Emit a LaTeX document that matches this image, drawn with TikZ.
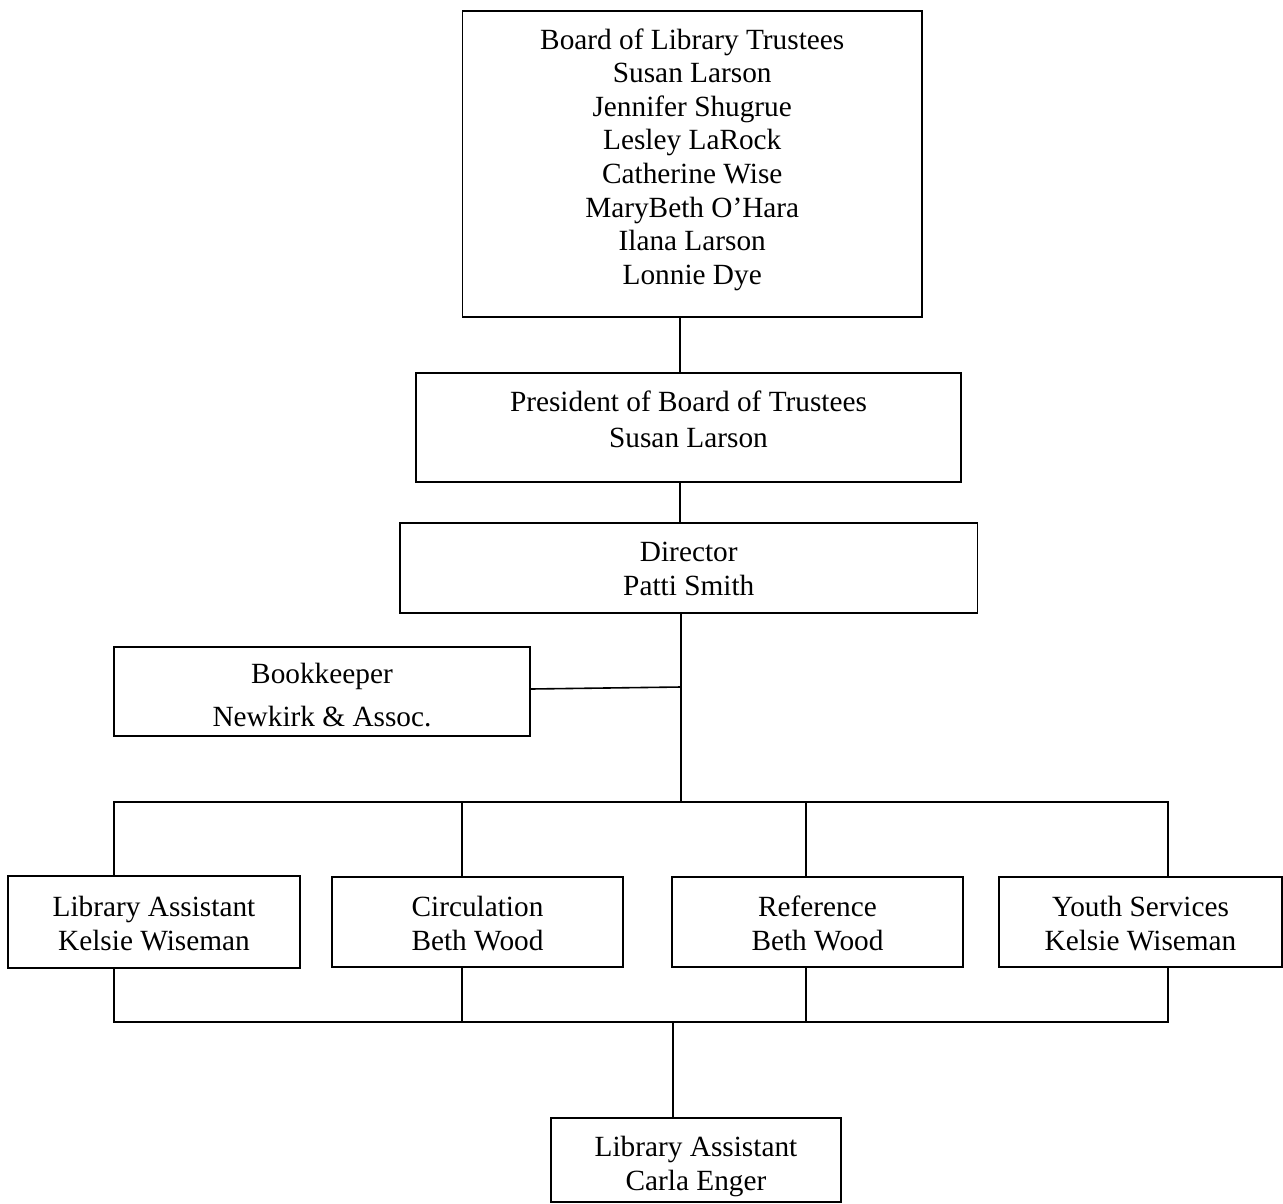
\documentclass[tikz,border=0pt]{standalone}
\usepackage{fontspec}
\setmainfont{Liberation Serif}
\begin{document}
\begin{tikzpicture}[x=1pt,y=-1pt,
  box/.style={draw, line width=1.8pt, inner sep=0pt, rectangle},
  txt/.style={align=center, inner sep=0pt, font=\fontsize{29.3}{34}\selectfont,
    execute at begin node=\strut, execute at end node=\strut},
  link/.style={line width=1.6pt, line join=miter}]
\useasboundingbox (0,0) rectangle (1283,1203);

% boxes
\node[box, minimum width=459.5pt, minimum height=306pt] (board) at (692.25,164) {};
\node[box, minimum width=545pt, minimum height=109pt] (pres) at (688.5,427.5) {};
\node[box, minimum width=577.5pt, minimum height=90pt] (dir) at (688.75,568) {};
\node[box, minimum width=416pt, minimum height=89pt] (bk) at (322,691.5) {};
\node[box, minimum width=292pt, minimum height=92pt] (la) at (154,922) {};
\node[box, minimum width=291pt, minimum height=90pt] (circ) at (477.5,922) {};
\node[box, minimum width=291pt, minimum height=90pt] (ref) at (817.5,922) {};
\node[box, minimum width=283pt, minimum height=90pt] (youth) at (1140.5,922) {};
\node[box, minimum width=290pt, minimum height=84pt] (bot) at (696,1160) {};

% texts
\node[txt, font=\fontsize{29.3}{33.6}\selectfont] (boardt) at (692.25,161.5) {Board of Library Trustees\\Susan Larson\\Jennifer Shugrue\\Lesley LaRock\\Catherine Wise\\MaryBeth O’Hara\\Ilana Larson\\Lonnie Dye};
\node[txt, font=\fontsize{29.3}{36}\selectfont] (prest) at (688.5,424.5) {President of Board of Trustees\\Susan Larson};
\node[txt] (dirt) at (688.75,573.5) {Director\\Patti Smith};
\node[txt, font=\fontsize{29.3}{43}\selectfont] (bkt) at (322,701.5) {Bookkeeper\\Newkirk \& Assoc.};
\node[txt] (lat) at (154,928) {Library Assistant\\Kelsie Wiseman};
\node[txt] (circt) at (477.5,928) {Circulation\\Beth Wood};
\node[txt] (reft) at (817.5,928) {Reference\\Beth Wood};
\node[txt] (youtht) at (1140.5,928) {Youth Services\\Kelsie Wiseman};
\node[txt] (bott) at (696,1168) {Library Assistant\\Carla Enger};

% connector coordinates
\coordinate (spine) at (680,0);
\coordinate (bus) at (681,802);
\coordinate (bkj) at (681,687);
\coordinate (busL) at (114,802);
\coordinate (busC) at (462,802);
\coordinate (busF) at (806,802);
\coordinate (busR) at (1168,802);
\coordinate (lowL) at (114,1022);
\coordinate (lowC) at (462,1022);
\coordinate (lowF) at (806,1022);
\coordinate (lowR) at (1168,1022);
\coordinate (lowM) at (673,1022);

% connectors
\draw[link] (board.south -| spine) -- (pres.north -| spine);
\draw[link] (pres.south -| spine) -- (dir.north -| spine);
\draw[link] (dir.south -| bus) -- (bus);
\draw[link] ([yshift=2.5pt]bk.east) -- (bkj);
\draw[link] (la.north -| busL) -- (busL) -- (busR) -- (youth.north -| busR);
\draw[link] (busC) -- (circ.north -| busC);
\draw[link] (busF) -- (ref.north -| busF);
\draw[link] (la.south -| lowL) -- (lowL) -- (lowR) -- (youth.south -| lowR);
\draw[link] (circ.south -| lowC) -- (lowC);
\draw[link] (ref.south -| lowF) -- (lowF);
\draw[link] (lowM) -- (bot.north -| lowM);
\end{tikzpicture}
\end{document}
